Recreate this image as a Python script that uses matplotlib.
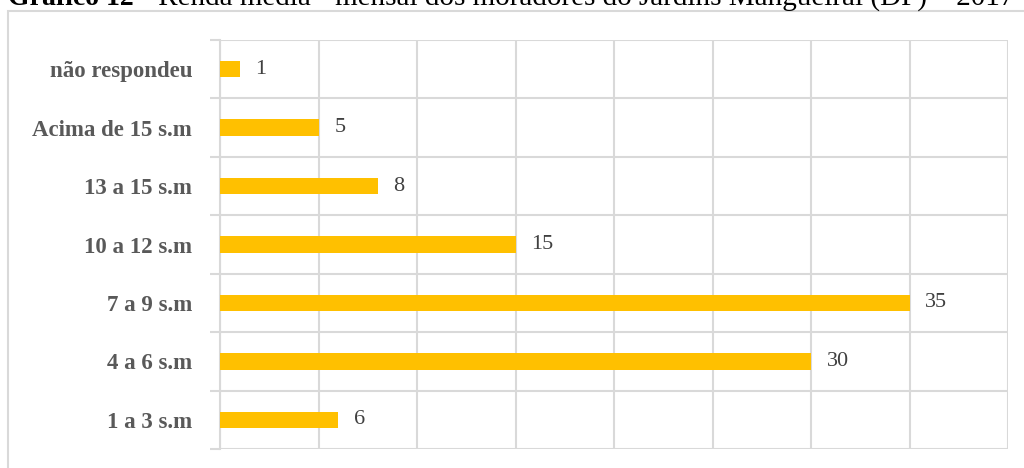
import matplotlib.pyplot as plt
from matplotlib.patches import Rectangle

categories = ['1 a 3 s.m', '4 a 6 s.m', '7 a 9 s.m', '10 a 12 s.m',
              '13 a 15 s.m', 'Acima de 15 s.m', 'não respondeu']
values = [6, 30, 35, 15, 8, 5, 1]

W, H = 1024, 468
fig = plt.figure(figsize=(W / 100, H / 100), dpi=100)
plt.rcParams['font.family'] = ['Liberation Serif', 'DejaVu Serif']

# plot area in pixels: x 220..1008, y 40..449
ax = fig.add_axes([220 / W, 1 - 449 / H, (1008 - 220) / W, (449 - 40) / H])

grid = '#d9d9d9'
ax.barh(range(len(values)), values, height=0.28, color='#ffc000', zorder=3)
for i, v in enumerate(values):
    ax.text(v + 0.8, i, str(v), va='center', ha='left', fontsize=16, color='#404040')

ax.set_xlim(0, 40)
ax.set_ylim(-0.5, len(values) - 0.5)
ax.set_xticks(range(0, 41, 5))
ax.xaxis.grid(True, color=grid, linewidth=1.5, zorder=0)
ax.tick_params(axis='x', length=0, labelbottom=False)

# horizontal lines between categories, sticking out left like ticks
ax.set_yticks([i - 0.5 for i in range(len(values) + 1)], minor=False)
ax.set_yticklabels([])
ax.yaxis.grid(True, color=grid, linewidth=1.5, zorder=0)
ax.tick_params(axis='y', which='major', length=7, color=grid, width=1.5)
ax.set_yticks(range(len(values)), minor=True)
ax.set_yticklabels(categories, minor=True, fontsize=16.5, fontweight='bold', color='#595959')
ax.tick_params(axis='y', which='minor', length=0, pad=20)

for s in ax.spines.values():
    s.set_visible(False)
ax.spines['left'].set_visible(True)
ax.spines['left'].set_color(grid)
ax.spines['left'].set_linewidth(1.5)

# outer chart frame (cut off at right and bottom)
fig.patches.append(Rectangle((8 / W, -0.1), 1.2, 1 - 11 / H + 0.1,
                             transform=fig.transFigure, fill=False,
                             edgecolor=grid, linewidth=1.5))

t1 = fig.text(8 / W, 1 - 5 / H, 'Gráfico 12', fontsize=20, fontweight='bold',
              va='baseline', ha='left', color='black')
fig.canvas.draw()
x_end = t1.get_window_extent().x1 / W
fig.text(x_end, 1 - 5 / H,
         ' - Renda média - mensal dos moradores do Jardins Mangueiral (DF) – 2017',
         fontsize=21, va='baseline', ha='left', color='black')

fig.savefig('out.png', dpi=100)
